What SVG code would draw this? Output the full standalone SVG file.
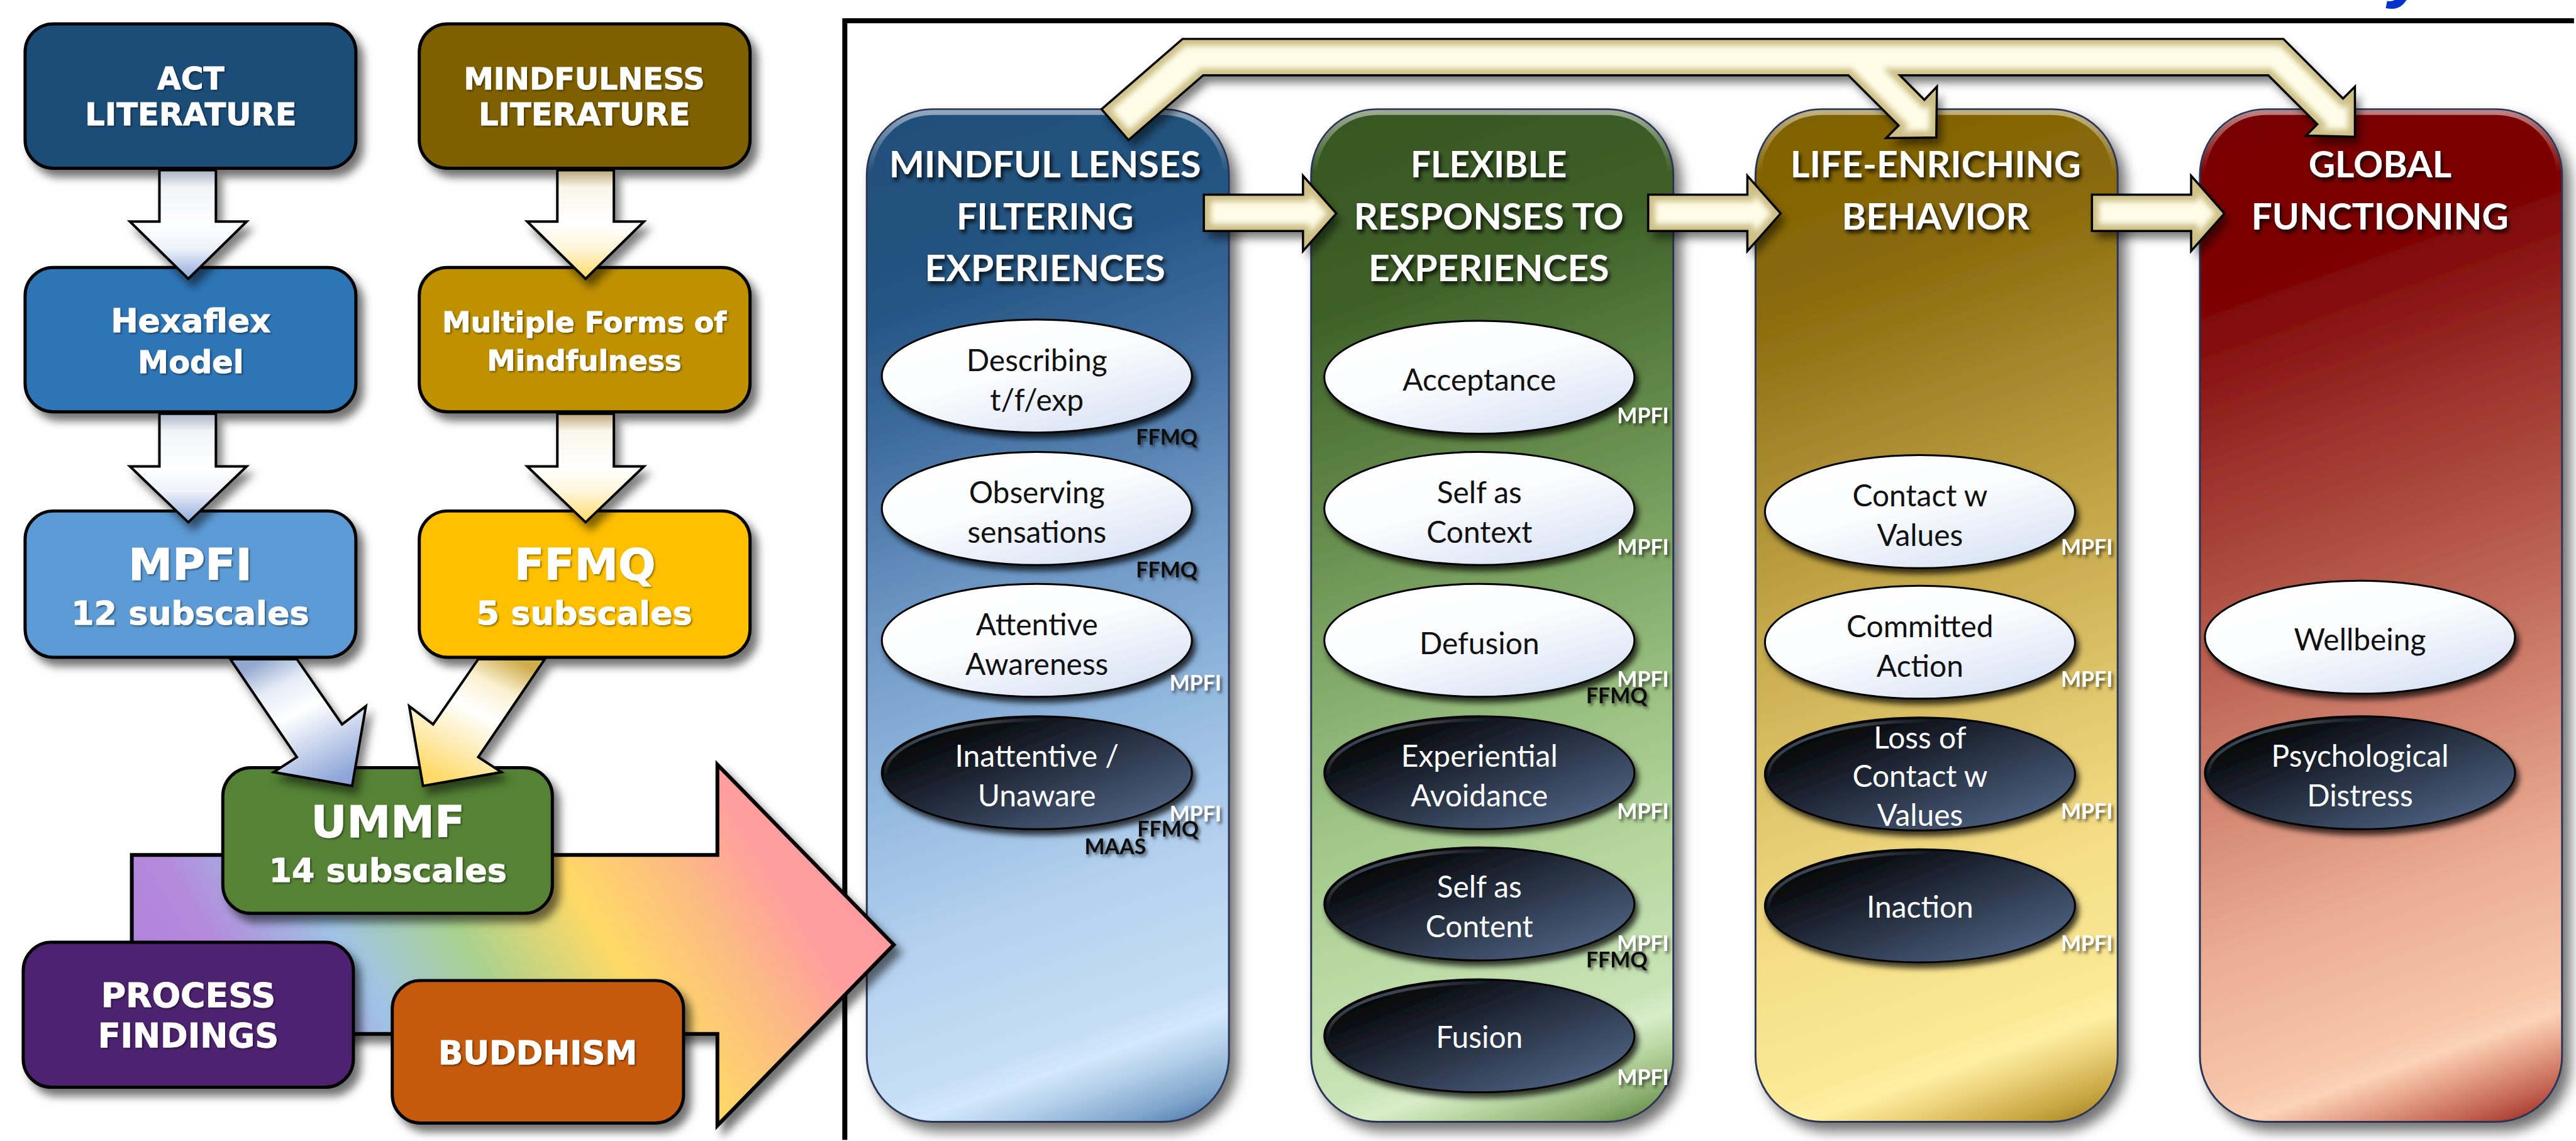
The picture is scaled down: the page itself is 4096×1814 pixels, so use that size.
<svg xmlns="http://www.w3.org/2000/svg" xmlns:xlink="http://www.w3.org/1999/xlink" width="4096" height="1814" viewBox="0 0 4096 1814">
<defs>
  <style>
    .box { stroke:#000; stroke-width:5; filter:url(#shBox); }
    .bt { font-family:"DejaVu Sans", Verdana, sans-serif; font-weight:bold; fill:#fff; stroke:#fff; stroke-width:0.8; text-anchor:middle; filter:url(#shTxtS); }
    .col { stroke:#2A3556; stroke-width:3; filter:url(#shCol); }
    .rim { fill:none; stroke:url(#gRim); stroke-width:8; }
    .hd { font-family:Lato, "Open Sans", sans-serif; font-weight:bold; font-size:57px; fill:#fff; text-anchor:middle; filter:url(#shTxt); }
    .el { stroke:#000; stroke-width:3; filter:url(#shEll); }
    .light { fill:url(#gLight); }
    .dark { fill:url(#gDark); }
    .drim { fill:none; stroke:url(#gDarkRim); stroke-width:5; }
    .et { font-family:Lato, "Open Sans", sans-serif; font-size:48px; text-anchor:middle; }
    .ek { fill:#111; }
    .ew { fill:#fff; }
    .tag { font-family:Lato, "Open Sans", sans-serif; font-weight:bold; font-size:34px; text-anchor:end; filter:url(#shTag); }
    .tw { fill:#fff; }
    .tk { fill:#111; }
    .arr { stroke:#000; stroke-width:4; stroke-linejoin:miter; }
    .cream { fill:#FFFDE8; }
    .bevel { fill:none; stroke:#CDBF86; stroke-width:22; filter:url(#blur4); }
    .outline { fill:none; stroke:#000; stroke-width:3.5; stroke-linejoin:miter; }
  </style>

  <!-- shadows -->
  <filter id="shBox" x="-10%" y="-10%" width="130%" height="140%">
    <feDropShadow dx="10" dy="12" stdDeviation="7" flood-color="#000" flood-opacity="0.55"/>
  </filter>
  <filter id="shCol" x="-8%" y="-4%" width="125%" height="110%">
    <feDropShadow dx="12" dy="14" stdDeviation="10" flood-color="#000" flood-opacity="0.55"/>
  </filter>
  <filter id="shEll" x="-10%" y="-20%" width="125%" height="150%">
    <feDropShadow dx="5" dy="8" stdDeviation="5" flood-color="#000" flood-opacity="0.75"/>
  </filter>
  <filter id="shArr" x="-10%" y="-20%" width="130%" height="160%">
    <feDropShadow dx="8" dy="12" stdDeviation="7" flood-color="#000" flood-opacity="0.5"/>
  </filter>
  <filter id="shTxt" x="-5%" y="-20%" width="115%" height="160%">
    <feDropShadow dx="3" dy="5" stdDeviation="3" flood-color="#000" flood-opacity="0.85"/>
  </filter>
  <filter id="shTxtS" x="-5%" y="-20%" width="115%" height="160%">
    <feDropShadow dx="2" dy="2" stdDeviation="1.5" flood-color="#000" flood-opacity="0.45"/>
  </filter>
  <filter id="shTag" x="-10%" y="-30%" width="130%" height="180%">
    <feDropShadow dx="3" dy="4" stdDeviation="2.5" flood-color="#000" flood-opacity="0.6"/>
  </filter>
  <filter id="blur4" x="-5%" y="-5%" width="110%" height="110%">
    <feGaussianBlur stdDeviation="5"/>
  </filter>

  <!-- column fills: dark at the top, pale band near the bottom, darker lower-right corner -->
  <linearGradient id="gC1" x1="0" y1="0" x2="0.139" y2="1.105">
    <stop offset="0" stop-color="#1F4E79"/>
    <stop offset="0.18" stop-color="#245482"/>
    <stop offset="0.3" stop-color="#3F6D9E"/>
    <stop offset="0.45" stop-color="#6A94C2"/>
    <stop offset="0.62" stop-color="#94B9DF"/>
    <stop offset="0.75" stop-color="#B3D0EE"/>
    <stop offset="0.88" stop-color="#C6DEF5"/>
    <stop offset="0.905" stop-color="#D3E8FB"/>
    <stop offset="0.93" stop-color="#B7D2EC"/>
    <stop offset="0.97" stop-color="#7FA5CC"/>
    <stop offset="1" stop-color="#3F6E9E"/>
  </linearGradient>
  <linearGradient id="gC2" x1="0" y1="0" x2="0.139" y2="1.105">
    <stop offset="0" stop-color="#375623"/>
    <stop offset="0.18" stop-color="#3D5F27"/>
    <stop offset="0.3" stop-color="#557A3C"/>
    <stop offset="0.45" stop-color="#769D5C"/>
    <stop offset="0.62" stop-color="#9BC182"/>
    <stop offset="0.75" stop-color="#B5D69E"/>
    <stop offset="0.88" stop-color="#C9E3B6"/>
    <stop offset="0.905" stop-color="#D8EDC9"/>
    <stop offset="0.93" stop-color="#BCD9A6"/>
    <stop offset="0.97" stop-color="#8AAE6E"/>
    <stop offset="1" stop-color="#557A3A"/>
  </linearGradient>
  <linearGradient id="gC3" x1="0" y1="0" x2="0.139" y2="1.105">
    <stop offset="0" stop-color="#7F6000"/>
    <stop offset="0.18" stop-color="#8A6A0A"/>
    <stop offset="0.3" stop-color="#A3852A"/>
    <stop offset="0.45" stop-color="#C2A546"/>
    <stop offset="0.62" stop-color="#E0C66C"/>
    <stop offset="0.75" stop-color="#F4DD86"/>
    <stop offset="0.88" stop-color="#FBE995"/>
    <stop offset="0.905" stop-color="#FEF0A4"/>
    <stop offset="0.93" stop-color="#EFD680"/>
    <stop offset="0.97" stop-color="#C9A744"/>
    <stop offset="1" stop-color="#9C7A1A"/>
  </linearGradient>
  <linearGradient id="gC4" x1="0" y1="0" x2="0.139" y2="1.105">
    <stop offset="0" stop-color="#780000"/>
    <stop offset="0.18" stop-color="#7E0505"/>
    <stop offset="0.3" stop-color="#982A26"/>
    <stop offset="0.45" stop-color="#B25447"/>
    <stop offset="0.62" stop-color="#D38672"/>
    <stop offset="0.75" stop-color="#EAAC93"/>
    <stop offset="0.88" stop-color="#F7C6AB"/>
    <stop offset="0.905" stop-color="#FCD3B8"/>
    <stop offset="0.93" stop-color="#E9A88F"/>
    <stop offset="0.97" stop-color="#C1614F"/>
    <stop offset="1" stop-color="#962019"/>
  </linearGradient>
  <linearGradient id="gRim" x1="0" y1="0" x2="0" y2="1">
    <stop offset="0" stop-color="#fff" stop-opacity="0.5"/>
    <stop offset="0.06" stop-color="#fff" stop-opacity="0"/>
  </linearGradient>

  <!-- ellipse fills -->
  <linearGradient id="gLight" x1="0.2" y1="0.05" x2="0.9" y2="1">
    <stop offset="0" stop-color="#FFFFFF"/>
    <stop offset="0.4" stop-color="#FBFCFE"/>
    <stop offset="1" stop-color="#D3DFF3"/>
  </linearGradient>
  <linearGradient id="gDark" x1="0.1" y1="0.15" x2="0.9" y2="0.9">
    <stop offset="0" stop-color="#000000"/>
    <stop offset="0.35" stop-color="#1C2330"/>
    <stop offset="1" stop-color="#4E6384"/>
  </linearGradient>
  <linearGradient id="gDarkRim" x1="0" y1="0" x2="0.6" y2="0.6">
    <stop offset="0" stop-color="#9AA6B8" stop-opacity="0.9"/>
    <stop offset="0.45" stop-color="#9AA6B8" stop-opacity="0"/>
  </linearGradient>

  <!-- left-hand arrows -->
  <linearGradient id="gDownBlue" x1="0" y1="0" x2="0" y2="1">
    <stop offset="0" stop-color="#A9B2C2"/>
    <stop offset="0.16" stop-color="#F2F4F8"/>
    <stop offset="0.5" stop-color="#FFFFFF"/>
    <stop offset="0.72" stop-color="#EEF2FA"/>
    <stop offset="1" stop-color="#8EA9DB"/>
  </linearGradient>
  <linearGradient id="gDownGold" x1="0" y1="0" x2="0" y2="1">
    <stop offset="0" stop-color="#B9A77A"/>
    <stop offset="0.16" stop-color="#FAF6EA"/>
    <stop offset="0.5" stop-color="#FFFFFF"/>
    <stop offset="0.72" stop-color="#FFF6DA"/>
    <stop offset="1" stop-color="#FFD966"/>
  </linearGradient>
  <linearGradient id="gDiagBlue" gradientUnits="userSpaceOnUse" x1="420" y1="1050" x2="520" y2="1250">
    <stop offset="0" stop-color="#93A8CE"/>
    <stop offset="0.22" stop-color="#E6ECF7"/>
    <stop offset="0.45" stop-color="#FFFFFF"/>
    <stop offset="1" stop-color="#8EA6D9"/>
  </linearGradient>
  <linearGradient id="gDiagGold" gradientUnits="userSpaceOnUse" x1="815" y1="1050" x2="715" y2="1250">
    <stop offset="0" stop-color="#CFAE4E"/>
    <stop offset="0.22" stop-color="#FBF1D2"/>
    <stop offset="0.45" stop-color="#FFFFFF"/>
    <stop offset="1" stop-color="#FFD966"/>
  </linearGradient>
  <linearGradient id="gRainbow" gradientUnits="userSpaceOnUse" x1="300" y1="1750" x2="1250" y2="1150">
    <stop offset="0" stop-color="#B07FDB"/>
    <stop offset="0.15" stop-color="#B48ADB"/>
    <stop offset="0.3" stop-color="#9FC3E6"/>
    <stop offset="0.45" stop-color="#A9D18E"/>
    <stop offset="0.62" stop-color="#FFD966"/>
    <stop offset="0.75" stop-color="#FBBE80"/>
    <stop offset="0.87" stop-color="#FF9E9E"/>
    <stop offset="1" stop-color="#FF9AA0"/>
  </linearGradient>

  <!-- cream arrow outlines, reused for fill, bevel and outline -->
  <polygon id="pBent" points="1755,174 1884,62 3638,62 3733,157 3752,138 3752,218 3674,216 3692,198 3614,120 3027,120 3066,159 3086,138 3085,219 3005,220 3025,200 2945,120 1917,120 1798,223"/>
  <polygon id="pA1" points="1918,310 2076,310 2076,280 2129,340 2076,400 2076,368 1918,368"/>
  <polygon id="pA2" points="2626,310 2784,310 2784,280 2837,340 2784,400 2784,368 2626,368"/>
  <polygon id="pA3" points="3333,310 3491,310 3491,280 3544,340 3491,400 3491,368 3333,368"/>
  <clipPath id="cBent"><use xlink:href="#pBent"/></clipPath>
  <clipPath id="cA1"><use xlink:href="#pA1"/></clipPath>
  <clipPath id="cA2"><use xlink:href="#pA2"/></clipPath>
  <clipPath id="cA3"><use xlink:href="#pA3"/></clipPath>
</defs>

<rect x="0" y="0" width="4096" height="1814" fill="#fff"/>

<g transform="scale(0.998)">

  <!-- descender of the cropped heading -->
  <text x="3806" y="-11" font-family="Liberation Sans, Arial, sans-serif" font-weight="bold" font-style="italic" font-size="120" fill="#0033CC">y</text>

  <!-- panel frame -->
  <path id="frame" d="M1346,1816 V33 H4101" fill="none" stroke="#000" stroke-width="8"/>

  <!-- ===== model columns ===== -->
  <g id="col-mindful-lenses">
    <rect x="1381" y="174" width="577" height="1613" rx="105" fill="url(#gC1)" class="col"/>
    <rect x="1386" y="179" width="567" height="1603" rx="100" class="rim"/>
    <text class="hd" x="1665" y="283" textLength="497" lengthAdjust="spacingAndGlyphs">MINDFUL LENSES</text>
    <text class="hd" x="1665" y="366" textLength="282" lengthAdjust="spacingAndGlyphs">FILTERING</text>
    <text class="hd" x="1665" y="448" textLength="383" lengthAdjust="spacingAndGlyphs">EXPERIENCES</text>
  </g>
  <g id="col-flexible-responses">
    <rect x="2089" y="174" width="577" height="1613" rx="105" fill="url(#gC2)" class="col"/>
    <rect x="2094" y="179" width="567" height="1603" rx="100" class="rim"/>
    <text class="hd" x="2372" y="283" textLength="249" lengthAdjust="spacingAndGlyphs">FLEXIBLE</text>
    <text class="hd" x="2372" y="366" textLength="430" lengthAdjust="spacingAndGlyphs">RESPONSES TO</text>
    <text class="hd" x="2372" y="448" textLength="383" lengthAdjust="spacingAndGlyphs">EXPERIENCES</text>
  </g>
  <g id="col-life-enriching">
    <rect x="2797" y="174" width="577" height="1613" rx="105" fill="url(#gC3)" class="col"/>
    <rect x="2802" y="179" width="567" height="1603" rx="100" class="rim"/>
    <text class="hd" x="3084" y="283" textLength="463" lengthAdjust="spacingAndGlyphs">LIFE-ENRICHING</text>
    <text class="hd" x="3084" y="366" textLength="299" lengthAdjust="spacingAndGlyphs">BEHAVIOR</text>
  </g>
  <g id="col-global-functioning">
    <rect x="3505" y="174" width="577" height="1613" rx="105" fill="url(#gC4)" class="col"/>
    <rect x="3510" y="179" width="567" height="1603" rx="100" class="rim"/>
    <text class="hd" x="3792" y="283" textLength="228" lengthAdjust="spacingAndGlyphs">GLOBAL</text>
    <text class="hd" x="3792" y="366" textLength="410" lengthAdjust="spacingAndGlyphs">FUNCTIONING</text>
  </g>

  <!-- ===== subscale ellipses ===== -->
  <!-- column 1 -->
  <g id="e-describing">
    <ellipse cx="1652" cy="599" rx="247" ry="90" class="el light"/>
    <text class="et ek" x="1652" y="591">Describing</text>
    <text class="et ek" x="1652" y="654">t/f/exp</text>
    <text class="tag tk" x="1908" y="708">FFMQ</text>
  </g>
  <g id="e-observing">
    <ellipse cx="1652" cy="810" rx="247" ry="90" class="el light"/>
    <text class="et ek" x="1652" y="802">Observing</text>
    <text class="et ek" x="1652" y="865">sensations</text>
    <text class="tag tk" x="1908" y="920">FFMQ</text>
  </g>
  <g id="e-attentive">
    <ellipse cx="1652" cy="1020" rx="247" ry="90" class="el light"/>
    <text class="et ek" x="1652" y="1012">Attentive</text>
    <text class="et ek" x="1652" y="1075">Awareness</text>
    <text class="tag tw" x="1946" y="1100">MPFI</text>
  </g>
  <g id="e-inattentive">
    <ellipse cx="1652" cy="1231" rx="247" ry="90" class="el dark"/>
    <ellipse cx="1652" cy="1231" rx="241" ry="84" class="drim"/>
    <text class="et ew" x="1652" y="1221">Inattentive /</text>
    <text class="et ew" x="1652" y="1285">Unaware</text>
    <text class="tag tw" x="1946" y="1309">MPFI</text>
    <text class="tag tk" x="1910" y="1333">FFMQ</text>
    <text class="tag tk" x="1826" y="1361">MAAS</text>
  </g>

  <!-- column 2 -->
  <g id="e-acceptance">
    <ellipse cx="2357" cy="601" rx="247" ry="90" class="el light"/>
    <text class="et ek" x="2357" y="622">Acceptance</text>
    <text class="tag tw" x="2659" y="674">MPFI</text>
  </g>
  <g id="e-self-context">
    <ellipse cx="2357" cy="810" rx="247" ry="90" class="el light"/>
    <text class="et ek" x="2357" y="802">Self as</text>
    <text class="et ek" x="2357" y="865">Context</text>
    <text class="tag tw" x="2659" y="884">MPFI</text>
  </g>
  <g id="e-defusion">
    <ellipse cx="2357" cy="1020" rx="247" ry="90" class="el light"/>
    <text class="et ek" x="2357" y="1042">Defusion</text>
    <text class="tag tw" x="2659" y="1094">MPFI</text>
    <text class="tag tk" x="2625" y="1120">FFMQ</text>
  </g>
  <g id="e-avoidance">
    <ellipse cx="2357" cy="1231" rx="247" ry="90" class="el dark"/>
    <ellipse cx="2357" cy="1231" rx="241" ry="84" class="drim"/>
    <text class="et ew" x="2357" y="1221">Experiential</text>
    <text class="et ew" x="2357" y="1285">Avoidance</text>
    <text class="tag tw" x="2659" y="1305">MPFI</text>
  </g>
  <g id="e-self-content">
    <ellipse cx="2357" cy="1440" rx="247" ry="90" class="el dark"/>
    <ellipse cx="2357" cy="1440" rx="241" ry="84" class="drim"/>
    <text class="et ew" x="2357" y="1430">Self as</text>
    <text class="et ew" x="2357" y="1493">Content</text>
    <text class="tag tw" x="2659" y="1515">MPFI</text>
    <text class="tag tk" x="2625" y="1541">FFMQ</text>
  </g>
  <g id="e-fusion">
    <ellipse cx="2357" cy="1650" rx="247" ry="90" class="el dark"/>
    <ellipse cx="2357" cy="1650" rx="241" ry="84" class="drim"/>
    <text class="et ew" x="2357" y="1669">Fusion</text>
    <text class="tag tw" x="2659" y="1728">MPFI</text>
  </g>

  <!-- column 3 -->
  <g id="e-contact-values">
    <ellipse cx="3059" cy="815" rx="247" ry="90" class="el light"/>
    <text class="et ek" x="3059" y="807">Contact w</text>
    <text class="et ek" x="3059" y="870">Values</text>
    <text class="tag tw" x="3366" y="884">MPFI</text>
  </g>
  <g id="e-committed">
    <ellipse cx="3059" cy="1023" rx="247" ry="90" class="el light"/>
    <text class="et ek" x="3059" y="1015">Committed</text>
    <text class="et ek" x="3059" y="1078">Action</text>
    <text class="tag tw" x="3366" y="1094">MPFI</text>
  </g>
  <g id="e-loss-contact">
    <ellipse cx="3059" cy="1233" rx="247" ry="90" class="el dark"/>
    <ellipse cx="3059" cy="1233" rx="241" ry="84" class="drim"/>
    <text class="et ew" x="3059" y="1192">Loss of</text>
    <text class="et ew" x="3059" y="1254">Contact w</text>
    <text class="et ew" x="3059" y="1316">Values</text>
    <text class="tag tw" x="3366" y="1305">MPFI</text>
  </g>
  <g id="e-inaction">
    <ellipse cx="3059" cy="1443" rx="247" ry="90" class="el dark"/>
    <ellipse cx="3059" cy="1443" rx="241" ry="84" class="drim"/>
    <text class="et ew" x="3059" y="1462">Inaction</text>
    <text class="tag tw" x="3366" y="1515">MPFI</text>
  </g>

  <!-- column 4 -->
  <g id="e-wellbeing">
    <ellipse cx="3760" cy="1015" rx="247" ry="90" class="el light"/>
    <text class="et ek" x="3760" y="1036">Wellbeing</text>
  </g>
  <g id="e-distress">
    <ellipse cx="3760" cy="1231" rx="247" ry="90" class="el dark"/>
    <ellipse cx="3760" cy="1231" rx="241" ry="84" class="drim"/>
    <text class="et ew" x="3760" y="1221">Psychological</text>
    <text class="et ew" x="3760" y="1285">Distress</text>
  </g>

  <!-- ===== broad arrow from the sources into the model ===== -->
  <g id="flow-arrow">
    <polygon points="210,1362 1143,1362 1143,1218 1424,1505 1143,1793 1143,1647 210,1647" fill="url(#gRainbow)" stroke="#000" stroke-width="6" stroke-linejoin="miter" filter="url(#shBox)"/>
  </g>

  <!-- ===== source boxes ===== -->
  <g id="n-process">
    <rect x="37" y="1501" width="526" height="231" rx="45" fill="#4E2270" class="box"/>
    <text class="bt" x="300" y="1604" font-size="53" textLength="278" lengthAdjust="spacingAndGlyphs">PROCESS</text>
    <text class="bt" x="300" y="1668" font-size="53" textLength="288" lengthAdjust="spacingAndGlyphs">FINDINGS</text>
  </g>
  <g id="n-buddhism">
    <rect x="625" y="1562" width="464" height="227" rx="45" fill="#C55A11" class="box"/>
    <text class="bt" x="857" y="1695" font-size="52" textLength="317" lengthAdjust="spacingAndGlyphs">BUDDHISM</text>
  </g>
  <g id="n-ummf">
    <rect x="355" y="1223" width="525" height="232" rx="45" fill="#548235" class="box"/>
    <text class="bt" x="618" y="1334" font-size="70" textLength="245" lengthAdjust="spacingAndGlyphs">UMMF</text>
    <text class="bt" x="618" y="1405" font-size="52" textLength="379" lengthAdjust="spacingAndGlyphs">14 subscales</text>
  </g>
  <g id="n-mpfi">
    <rect x="40" y="814" width="527" height="233" rx="45" fill="#5B9BD5" class="box"/>
    <text class="bt" x="303" y="924" font-size="70" textLength="197" lengthAdjust="spacingAndGlyphs">MPFI</text>
    <text class="bt" x="303" y="995" font-size="52" textLength="379" lengthAdjust="spacingAndGlyphs">12 subscales</text>
  </g>
  <g id="n-ffmq">
    <rect x="668" y="814" width="527" height="233" rx="45" fill="#FFC000" class="box"/>
    <text class="bt" x="932" y="924" font-size="70" textLength="225" lengthAdjust="spacingAndGlyphs">FFMQ</text>
    <text class="bt" x="931" y="995" font-size="52" textLength="344" lengthAdjust="spacingAndGlyphs">5 subscales</text>
  </g>
  <g id="n-hexaflex">
    <rect x="40" y="426" width="527" height="230" rx="45" fill="#2E75B6" class="box"/>
    <text class="bt" x="304" y="529" font-size="51" textLength="255" lengthAdjust="spacingAndGlyphs">Hexaflex</text>
    <text class="bt" x="304" y="594" font-size="50" textLength="169" lengthAdjust="spacingAndGlyphs">Model</text>
  </g>
  <g id="n-multiple-forms">
    <rect x="668" y="426" width="527" height="230" rx="45" fill="#BF9000" class="box"/>
    <text class="bt" x="931" y="529" font-size="44" textLength="453" lengthAdjust="spacingAndGlyphs">Multiple Forms of</text>
    <text class="bt" x="931" y="590" font-size="45" textLength="310" lengthAdjust="spacingAndGlyphs">Mindfulness</text>
  </g>
  <g id="n-act">
    <rect x="40" y="38" width="527" height="230" rx="45" fill="#1F4E79" class="box"/>
    <text class="bt" x="304" y="142" font-size="49" textLength="107" lengthAdjust="spacingAndGlyphs">ACT</text>
    <text class="bt" x="304" y="199" font-size="49" textLength="337" lengthAdjust="spacingAndGlyphs">LITERATURE</text>
  </g>
  <g id="n-mindfulness-lit">
    <rect x="668" y="38" width="527" height="230" rx="45" fill="#7F6000" class="box"/>
    <text class="bt" x="931" y="142" font-size="48" textLength="384" lengthAdjust="spacingAndGlyphs">MINDFULNESS</text>
    <text class="bt" x="931" y="199" font-size="49" textLength="337" lengthAdjust="spacingAndGlyphs">LITERATURE</text>
  </g>

  <!-- ===== connectors ===== -->
  <g id="connectors">
    <!-- literature to models -->
    <polygon class="arr" fill="url(#gDownBlue)" filter="url(#shArr)" points="254,271 344,271 344,353 393,353 300,444 207,353 254,353"/>
    <polygon class="arr" fill="url(#gDownGold)" filter="url(#shArr)" points="888,271 978,271 978,353 1026,353 933,444 840,353 888,353"/>
    <!-- models to questionnaires -->
    <polygon class="arr" fill="url(#gDownBlue)" filter="url(#shArr)" points="254,659 344,659 344,743 393,743 300,832 207,743 254,743"/>
    <polygon class="arr" fill="url(#gDownGold)" filter="url(#shArr)" points="888,659 978,659 978,743 1026,743 933,832 840,743 888,743"/>
    <!-- questionnaires to UMMF -->
    <polygon class="arr" fill="url(#gDiagBlue)" filter="url(#shArr)" points="367,1050 473,1050 545,1154 583,1125 561,1252 436,1230 473,1206"/>
    <polygon class="arr" fill="url(#gDiagGold)" filter="url(#shArr)" points="868,1050 762,1050 690,1154 652,1125 674,1252 799,1230 762,1206"/>

    <!-- model flow: lenses to responses to behaviour to functioning -->
    <g filter="url(#shArr)">
      <use xlink:href="#pA1" class="cream"/>
      <use xlink:href="#pA2" class="cream"/>
      <use xlink:href="#pA3" class="cream"/>
    </g>
    <use xlink:href="#pA1" class="bevel" clip-path="url(#cA1)"/>
    <use xlink:href="#pA2" class="bevel" clip-path="url(#cA2)"/>
    <use xlink:href="#pA3" class="bevel" clip-path="url(#cA3)"/>
    <use xlink:href="#pA1" class="outline"/>
    <use xlink:href="#pA2" class="outline"/>
    <use xlink:href="#pA3" class="outline"/>

    <!-- bypass arrow over the top -->
    <use xlink:href="#pBent" class="cream" filter="url(#shArr)"/>
    <use xlink:href="#pBent" class="bevel" clip-path="url(#cBent)"/>
    <use xlink:href="#pBent" class="outline"/>
  </g>
</g>
</svg>
